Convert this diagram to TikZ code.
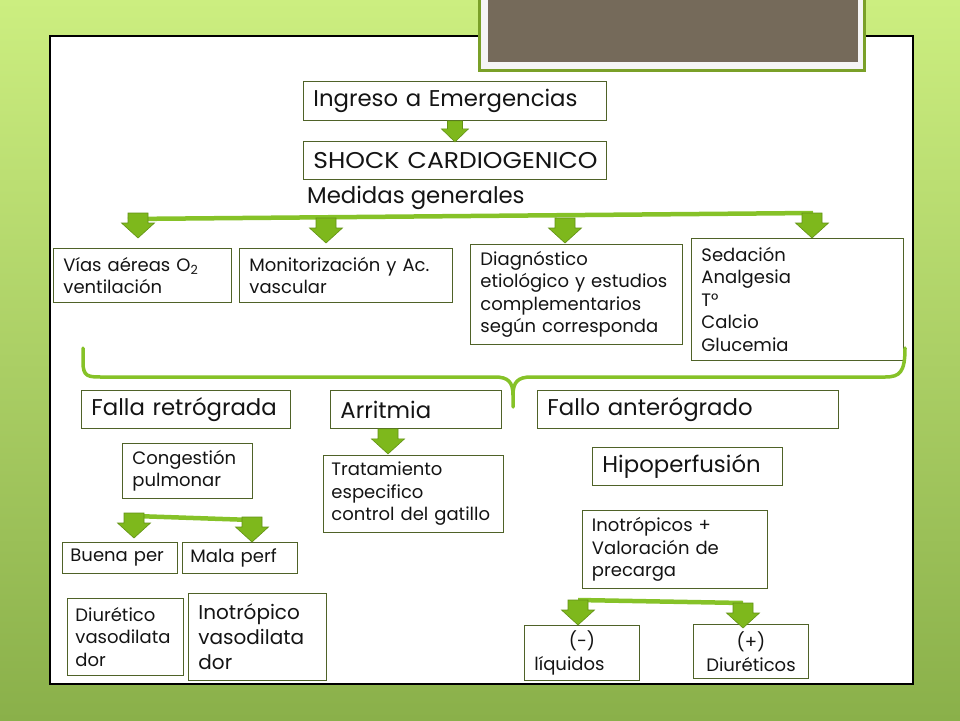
\documentclass[tikz,border=0pt]{standalone}
\usepackage{fontspec}
\setmainfont{Poppins}
\usetikzlibrary{calc}
\definecolor{bgtop}{RGB}{204,238,128}
\definecolor{bgbot}{RGB}{138,176,74}
\definecolor{boxc}{RGB}{79,98,40}
\definecolor{gline}{RGB}{134,194,40}
\definecolor{afill}{RGB}{126,184,28}
\definecolor{adraw}{RGB}{98,146,20}
\definecolor{brownc}{RGB}{117,106,90}
\definecolor{framec}{RGB}{122,160,40}
\definecolor{txt}{RGB}{20,20,20}
\newcommand\bigf{\fontsize{22.8}{26}\selectfont}
\newcommand\midf{\fontsize{18}{22.5}\selectfont}
\newcommand\garrow[1]{\draw[barrow] #1 ++(-10,0) -- ++(20,0) -- ++(0,10) -- ++(6.5,0) -- ++(-16.5,15) -- ++(-16.5,-15) -- ++(6.5,0) -- cycle;}
\newcommand\sarrow[1]{\draw[barrow] #1 ++(-7.5,0) -- ++(15,0) -- ++(0,8) -- ++(6,0) -- ++(-13.5,13) -- ++(-13.5,-13) -- ++(6,0) -- cycle;}
\tikzset{
  box/.style={draw=boxc, line width=0.9pt, fill=white, anchor=north west, inner xsep=10pt, inner ysep=0pt, align=left, text=txt},
  barrow/.style={fill=afill, draw=adraw, line width=0.6pt, line join=miter},
  gbar/.style={draw=gline, line width=4.5pt},
  brace/.style={draw=gline, line width=3.5pt, line cap=round}
}
\begin{document}
\begin{tikzpicture}[x=1pt,y=-1pt]
\useasboundingbox (0,0) rectangle (960,720);
% background
\shade[top color=bgtop, bottom color=bgbot] (0,0) rectangle (960,720);
% panel
\draw[fill=white, draw=black, line width=1.2pt] (50,36) rectangle (913,684);
% top picture frame
\fill[framec] (478,-5) rectangle (866,72);
\fill[white!96!black] (481,-5) rectangle (863,69);
\fill[brownc] (488,-5) rectangle (858,62);

% top boxes
\node[box, font=\bigf, minimum height=39pt, text width=283pt] (ing) at (303,81) {Ingreso a Emergencias};
\node[box, font=\bigf, minimum height=38pt, text width=283pt] (shock) at (303,141) {\scalebox{1.097}[1]{SHOCK CARDIOGENICO}};
\node[anchor=west, font=\bigf, inner sep=0pt, text=txt] (med) at (307,198) {Medidas generales};
\sarrow{(ing.south)}

% general measures bar
\coordinate (b1) at (128,219);
\coordinate (b4) at (813,213);
\draw[gbar] (b1) -- (b4);
\coordinate (a1) at (138,213);
\coordinate (a2) at (326,218);
\coordinate (a3) at (565,218);
\coordinate (a4) at (812,213);

\node[box, font=\midf, minimum height=54pt, text width=158pt] (via) at (53,248) {Vías aéreas O\textsubscript{2}\\ventilación};
\node[box, font=\midf, minimum height=54pt, text width=193pt] (mon) at (239,248) {Monitorización y Ac.\\vascular};
\node[box, font=\midf, minimum height=100pt, text width=192pt] (diag) at (470,244) {Diagnóstico\\etiológico y estudios\\complementarios\\según corresponda};
\node[box, font=\midf, minimum height=122pt, text width=192pt] (sed) at (691,238) {Sedación\\Analgesia\\T°\\Calcio\\Glucemia};
\garrow{(a1)}
\garrow{(a2)}
\garrow{(a3)}
\garrow{(a4)}

% brace
\coordinate (brL) at (83,348);
\coordinate (brR) at (905,348);
\coordinate (brM) at (513,407);
\draw[brace] (brL) -- (83,362) .. controls (83,377) and (88,377) .. (103,377) -- (495,377) .. controls (508,377) and (513,382) .. (513,395) -- (brM);
\draw[brace] (513,395) .. controls (513,382) and (518,377) .. (531,377) -- (885,377) .. controls (900,377) and (905,372) .. (brR);

% second row
\node[box, font=\bigf, minimum height=38pt, text width=189pt] (falla) at (81,390) {Falla retrógrada};
\node[box, font=\bigf, minimum height=38pt, text width=151pt] (arr) at (330,390) {Arritmia};
\node[box, font=\bigf, minimum height=38pt, text width=281pt] (fallo) at (537,390) {Fallo anterógrado};

% left branch
\node[box, font=\midf, minimum height=55pt, text width=110pt] (cong) at (122,443) {Congestión\\pulmonar};
\coordinate (c1) at (135,516);
\coordinate (c2) at (252,520);
\draw[gbar] (c1) -- (c2);
\node[box, font=\midf, minimum height=31pt, text width=99pt, inner xsep=8pt] (buena) at (62,542) {Buena per};
\node[box, font=\midf, minimum height=31pt, text width=99pt, inner xsep=8pt] (mala) at (182,542) {Mala perf};
\garrow{(134,513)}
\garrow{(252,517)}
\node[box, font=\midf, minimum height=77pt, text width=100pt, inner xsep=8pt] (diur) at (67,598) {Diurético\\vasodilata\\dor};
\node[box, font=\fontsize{20}{25}\selectfont, minimum height=87pt, text width=118pt] (inotv) at (188,593) {Inotrópico\\vasodilata\\dor};

% middle branch
\node[box, font=\midf, minimum height=77pt, text width=164pt, inner xsep=8pt] (trat) at (323,455) {Tratamiento\\especifico\\control del gatillo};
\garrow{($(arr.south west)+(58,0)$)}

% right branch
\node[box, font=\bigf, minimum height=38pt, text width=170pt] (hipo) at (592,447) {Hipoperfusión};
\node[box, font=\midf, minimum height=78pt, text width=166pt, inner xsep=9.5pt] (inot) at (582,510) {Inotrópicos +\\Valoración de\\precarga};
\coordinate (d1) at (578,600);
\coordinate (d2) at (743,603);
\draw[gbar] (d1) -- (d2);
\node[box, font=\midf, minimum height=55pt, text width=95pt] (liq) at (524,625) {\makebox[95pt]{(-)}\\líquidos};
\node[box, font=\midf, minimum height=54pt, text width=95pt, align=center] (diu2) at (693,624) {(+)\\Diuréticos};
\garrow{(d1)}
\garrow{(d2)}
\end{tikzpicture}
\end{document}
